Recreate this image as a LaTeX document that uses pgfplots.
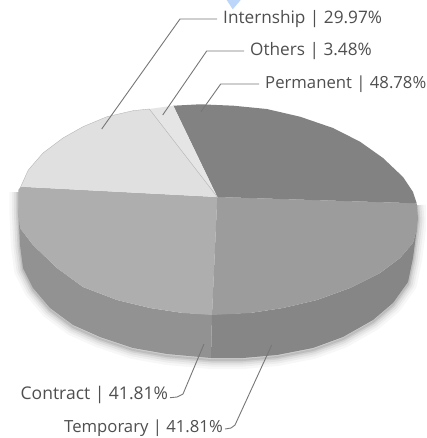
\documentclass[border=0pt]{standalone}
\usepackage{fontspec}
\setmainfont{Open Sans}
\usepackage{pgfplots}
\pgfplotsset{compat=1.18}
\definecolor{perm}{HTML}{828282}
\definecolor{temp}{HTML}{9C9C9C}
\definecolor{contr}{HTML}{AEAEAE}
\definecolor{intern}{HTML}{E0E0E0}
\definecolor{oth}{HTML}{E5E5E5}
\definecolor{sideL}{HTML}{929292}
\definecolor{sideR}{HTML}{868686}
\definecolor{ink}{HTML}{4F4F4F}
\definecolor{leadcol}{HTML}{777777}
\definecolor{pointer}{HTML}{BBD6F8}
\tikzset{
  label text/.style={text=ink, font=\fontsize{#1}{20}\selectfont, inner sep=0pt, anchor=west},
  label text/.default=17.2,
  leader/.style={draw=leadcol, line width=0.9pt},
}
% lower rim of the body, used for the cast shadow
\pgfplotstableread{
x y
18.3 190
18.3 208
20 245
23 268
33 288
50 308
73 325
100 337
133 348
167 354
211 358
243 358
277 355
313 348
343 337
373 320
393 303
408 282
413 258
416 235
418 218
416.7 203.3
}\lowerrim
\begin{document}
\begin{tikzpicture}
\begin{axis}[
  name=pie,
  width=426pt, height=438pt, scale only axis,
  xmin=0, xmax=426, ymin=0, ymax=438, y dir=reverse,
  hide axis, clip=true,
  every axis plot/.append style={line join=round},
]
\addplot[fill=white, draw=none] coordinates {(0,0) (426,0) (426,438) (0,438)} -- cycle;

% soft shadow under the body
\addplot[draw=black, opacity=0.03, line width=18pt, yshift=-2pt] table {\lowerrim};
\addplot[draw=black, opacity=0.04, line width=13pt, yshift=-2pt] table {\lowerrim};
\addplot[draw=black, opacity=0.05, line width=9pt, yshift=-2pt] table {\lowerrim};
\addplot[draw=black, opacity=0.07, line width=5pt, yshift=-2pt] table {\lowerrim};
\addplot[draw=black, opacity=0.09, line width=2pt, yshift=-2pt] table {\lowerrim};

% side wall, left and right of the seam
\addplot[fill=sideL, draw=none] coordinates {(18.3,208) (20,245) (23,268) (33,288) (50,308) (73,325) (100,337) (133,348) (167,354) (211,358) (212,314) (183,313) (150,308) (117,300) (83,287) (57,268) (33,245) (20,228)} -- cycle;
\addplot[fill=sideR, draw=none] coordinates {(211,358) (243,358) (277,355) (313,348) (343,337) (373,320) (393,303) (408,282) (413,258) (416,235) (417,228) (413,243) (400,258) (380,273) (350,288) (317,300) (283,308) (250,313) (212,314)} -- cycle;

% top face slices
\addplot[fill=contr, draw=none] coordinates {(217.3,197) (20.7,186.7) (18.3,190) (18.3,208) (20,228) (33,245) (57,268) (83,287) (117,300) (150,308) (183,313) (212,315)} -- cycle;
\addplot[fill=temp, draw=none] coordinates {(217.3,197) (212,315) (250,313) (283,308) (317,300) (350,288) (380,273) (400,258) (413,243) (417,228) (418,218) (416.7,203.3)} -- cycle;
\addplot[fill=perm, draw=none] coordinates {(217.3,197) (416.7,203.3) (413,192) (403,177) (383,158) (360,141.7) (333,128) (300,116.7) (266.7,109) (233.3,105.7) (200,104.3) (173.3,105.7)} -- cycle;
\addplot[fill=intern, draw=none] coordinates {(217.3,197) (149.3,109) (133,110.7) (107,116.7) (83,126.7) (63,138) (43,153) (28.3,170) (20.7,186.7)} -- cycle;
\addplot[fill=oth, draw=none] coordinates {(217.3,197) (173.3,105.7) (149.3,109)} -- cycle;
\addplot[draw=black!30, line width=0.4pt] coordinates {(217.3,197) (149.3,109)};
\addplot[draw=black!30, line width=0.35pt] coordinates {(20.7,186.7) (28.3,170) (43,153) (63,138) (83,126.7) (107,116.7) (133,110.7) (149.3,109)};

% leader lines
\addplot[leader] coordinates {(101.7,129) (180,19) (217,19)};
\addplot[leader] coordinates {(162.7,115) (206.7,51) (244,51)};
\addplot[leader] coordinates {(201,111.7) (220.7,84) (259,84)};
\addplot[leader] coordinates {(204,344) (183,394) (177,397) (170,397.7)};
\addplot[leader] coordinates {(271.7,345) (235,425) (231,428) (225,429)};

% small pointer cut off by the top edge
\addplot[fill=pointer, draw=none] coordinates {(226.7,0) (240.7,0) (232.7,9.3)} -- cycle;

\node[label text] at (axis cs:223,19) {Internship | 29.97\%};
\node[label text] at (axis cs:250,51) {Others | 3.48\%};
\node[label text=16.7] at (axis cs:265,84) {Permanent | 48.78\%};
\node[label text=17.5] at (axis cs:20.5,395) {Contract | 41.81\%};
\node[label text=16.7] at (axis cs:64,428.5) {Temporary | 41.81\%};
\end{axis}
\pgfresetboundingbox
\path[use as bounding box] (pie.south west) rectangle (pie.north east);
\end{tikzpicture}
\end{document}
